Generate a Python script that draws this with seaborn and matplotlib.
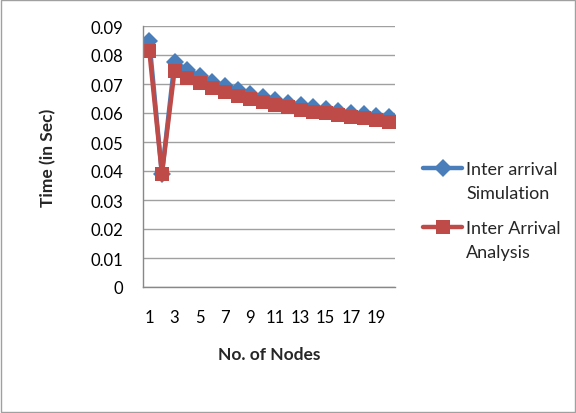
import matplotlib
matplotlib.use("Agg")
import matplotlib.pyplot as plt
import seaborn as sns
import pandas as pd
from matplotlib.patches import Rectangle

nodes = list(range(1, 21))
sim = [0.0850, 0.0390, 0.0776, 0.0750, 0.0728, 0.0708, 0.0692, 0.0678, 0.0666, 0.0655,
       0.0645, 0.0636, 0.0628, 0.0620, 0.0613, 0.0607, 0.0601, 0.0595, 0.0590, 0.0585]
ana = [0.0815, 0.0390, 0.0745, 0.0722, 0.0703, 0.0686, 0.0671, 0.0658, 0.0647, 0.0637,
       0.0628, 0.0620, 0.0612, 0.0605, 0.0599, 0.0593, 0.0587, 0.0582, 0.0577, 0.0570]
series_first = ["Inter arrival", "Inter Arrival"]
series_second = ["Simulation", "Analysis"]
yticks = [0, 0.01, 0.02, 0.03, 0.04, 0.05, 0.06, 0.07, 0.08, 0.09]
ytick_labels = ["0", "0.01", "0.02", "0.03", "0.04", "0.05", "0.06", "0.07", "0.08", "0.09"]
xticks = [1, 3, 5, 7, 9, 11, 13, 15, 17, 19]

df = pd.DataFrame({
    "Nodes": nodes * 2,
    "Time": sim + ana,
    "Series": [series_first[0]] * len(nodes) + [series_first[1]] * len(nodes),
})

sns.set_style("white")
plt.rcParams["font.family"] = ["Lato", "DejaVu Sans"]

fig = plt.figure(figsize=(5.76, 4.14), dpi=100)
ax = fig.add_axes([143 / 576, 1 - 288 / 414, (395 - 143) / 576, (288 - 27) / 414])

colors = {series_first[0]: "#4A7EBB", series_first[1]: "#BE4B48"}
sns.lineplot(data=df, x="Nodes", y="Time", hue="Series", style="Series",
             markers={series_first[0]: "D", series_first[1]: "s"},
             dashes=False, palette=colors, linewidth=3.2, markersize=10,
             markeredgewidth=0, ax=ax, legend=True)
lines = ax.get_lines()
if len(lines) >= 2:
    lines[0].set_markersize(9.5)
    lines[1].set_markersize(10.5)

ax.set_xlim(0.5, 20.5)
ax.set_ylim(0, 0.09)
ax.set_yticks(yticks)
ax.set_yticklabels(ytick_labels)
ax.set_xticks(xticks)
ax.set_xticklabels([str(t) for t in xticks])
ax.tick_params(axis="both", labelsize=12, colors="#000000", length=0)
ax.tick_params(axis="x", pad=16)
ax.tick_params(axis="y", pad=14)
ax.grid(axis="y", color="#A0A0A0", linewidth=1)
ax.set_axisbelow(True)
for s in ["top", "right"]:
    ax.spines[s].set_visible(False)
for s in ["left", "bottom"]:
    ax.spines[s].set_color("#888888")
    ax.spines[s].set_linewidth(1)

ax.set_xlabel("No. of Nodes", fontsize=12.5, fontweight="bold", labelpad=15)
ax.set_ylabel("Time (in Sec)", fontsize=12.5, fontweight="bold", labelpad=25)

leg = ax.legend(loc="upper left", bbox_to_anchor=(1.11, 0.483), frameon=False,
                fontsize=13, handlelength=2.2, labelspacing=2.4, handletextpad=0.22,
                borderaxespad=0, borderpad=0)
for h in leg.legend_handles:
    h.set_linewidth(3.2)
    h.set_markersize(9.5)

fig.canvas.draw()
inv = fig.transFigure.inverted()
for t, extra in zip(leg.get_texts(), series_second):
    bb = t.get_window_extent()
    x0, y0 = inv.transform((bb.x0, bb.y0 - 24))
    fig.text(x0, y0, extra, fontsize=13, ha="left", va="bottom")

fig.patches.append(Rectangle((0.002, 0.002), 0.996, 0.996, transform=fig.transFigure,
                             fill=False, edgecolor="#A0A0A0", linewidth=1))

fig.savefig("out.png", dpi=100)
